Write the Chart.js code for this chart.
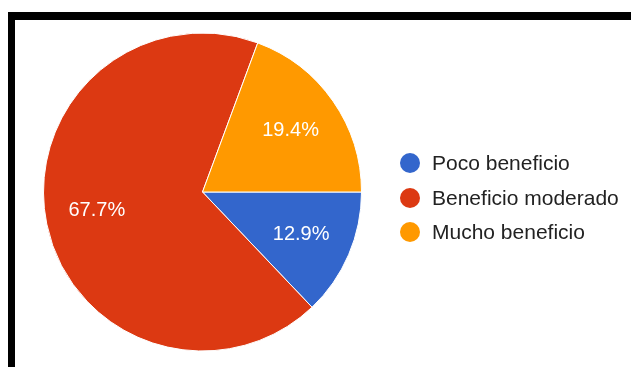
<!DOCTYPE html>
<html>
<head>
<meta charset="utf-8">
<script src="https://cdn.jsdelivr.net/npm/chart.js@4"></script>
<style>
  html, body { margin: 0; padding: 0; background: #fff; }
  #wrap { position: relative; width: 631px; height: 367px; overflow: hidden; }
  #frame { position: absolute; left: 8px; top: 12px; width: 640px; height: 400px;
           border-top: 8px solid #000; border-left: 7px solid #000; }
  #chart1 { position: absolute; left: 0; top: 0; }
  #legend { position: absolute; left: 400px; top: 146px; font-family: "Liberation Sans", Arial, sans-serif;
            font-size: 21px; color: #222; }
  #legend .item { height: 34.5px; display: flex; align-items: center; white-space: nowrap; }
  #legend .dot { width: 20px; height: 20px; border-radius: 50%; margin-right: 12px; }
</style>
</head>
<body>
<div id="wrap">
  <div id="frame"></div>
  <canvas id="chart1" width="631" height="367"></canvas>
  <div id="legend"></div>
</div>
<script>
// datos de la encuesta (31 respuestas)
var labels = ['Poco beneficio', 'Beneficio moderado', 'Mucho beneficio'];
var counts = [4, 21, 6];
var colors = ['#3366cc', '#dc3912', '#ff9900'];

var total = counts.reduce(function (a, b) { return a + b; }, 0);

// etiquetas de porcentaje dentro de cada sector
var sliceLabels = {
    id: 'sliceLabels',
    afterDatasetsDraw: function (chart, args, opts) {
        var ctx = chart.ctx;
        var meta = chart.getDatasetMeta(0);
        ctx.save();
        ctx.fillStyle = '#fff';
        ctx.font = '20px "Liberation Sans", Arial, sans-serif';
        ctx.textAlign = 'center';
        ctx.textBaseline = 'middle';
        meta.data.forEach(function (arc, i) {
            var p = arc.getProps(['x', 'y', 'startAngle', 'endAngle', 'outerRadius'], true);
            var mid = (p.startAngle + p.endAngle) / 2;
            // sector grande: Google lo pone mas cerca del borde izquierdo
            if (opts.angles && opts.angles[i] != null) mid = opts.angles[i] * Math.PI / 180;
            var r = p.outerRadius * 0.675;
            var pct = (counts[i] / total * 100).toFixed(1) + '%';
            ctx.fillText(pct, p.x + Math.cos(mid) * r, p.y + Math.sin(mid) * r);
        });
        ctx.restore();
    }
};

var ctx = document.getElementById('chart1');
var chart = new Chart(ctx, {
    type: 'pie',
    data: {
        labels: labels,
        datasets: [{
            data: counts,
            backgroundColor: colors,
            borderColor: '#fff',
            borderWidth: 1
        }]
    },
    options: {
        responsive: false,
        animation: false,
        rotation: 90,
        layout: { padding: { left: 43, top: 32.5, right: 269, bottom: 15.5 } },
        plugins: {
            legend: { display: false },
            tooltip: { enabled: false },
            sliceLabels: { angles: [null, 170, null] }
        }
    },
    plugins: [sliceLabels]
});

// leyenda
var legend = document.getElementById('legend');
labels.forEach(function (lab, i) {
    var item = document.createElement('div');
    item.className = 'item';
    item.innerHTML = '<span class="dot" style="background:' + colors[i] + '"></span><span>' + lab + '</span>';
    legend.appendChild(item);
});
</script>
</body>
</html>
